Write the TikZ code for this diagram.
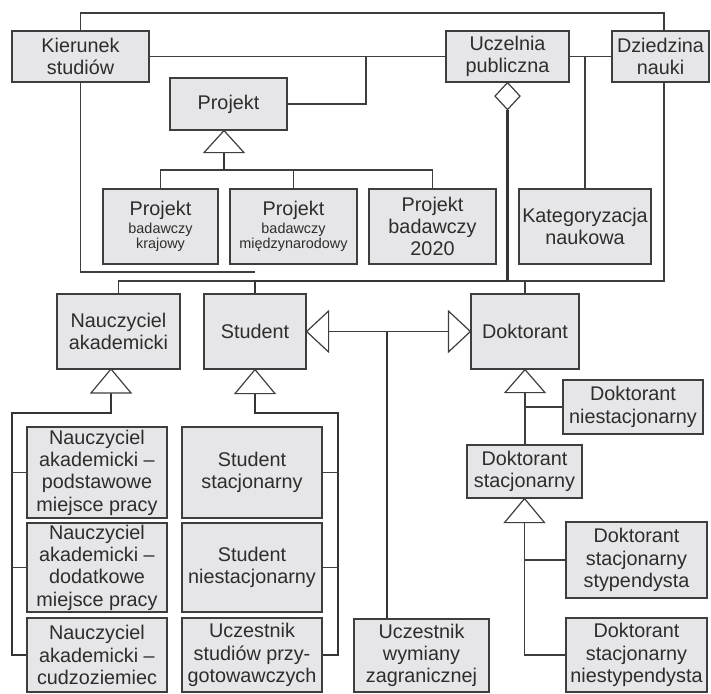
\documentclass[tikz,border=0pt]{standalone}
\usepackage{fontspec}
\setmainfont{Liberation Sans}
\usetikzlibrary{calc}
\definecolor{boxfill}{RGB}{230,230,232}
\definecolor{ink}{RGB}{62,62,62}
\definecolor{txt}{RGB}{45,45,45}
\newcommand\smtxt{\fontsize{14.4}{15}\selectfont}
\newcommand\bgtxt{\fontsize{19.8}{22.3}\selectfont}
\tikzset{
 box/.style={draw=ink, line width=1.2pt, fill=boxfill, align=center, inner sep=1pt, text=txt, font=\bgtxt},
 sbox/.style={box, font=\smtxt},
 conn/.style={draw=ink, line width=1.3pt},
 thk/.style={draw=ink!85!black, line width=2.3pt},
 tri/.style={draw=ink, line width=1.2pt, fill=white, line join=miter},
}
\begin{document}
\begin{tikzpicture}[x=1pt,y=-1pt]
\useasboundingbox (0,0) rectangle (711,693);
% boxes
\node[box, minimum width=137pt, minimum height=51pt] (kier) at (80.5,56.5) {Kierunek\\studiów};
\node[box, minimum width=123pt, minimum height=51pt] (uczel) at (507.5,56.5) {Uczelnia\\publiczna};
\node[box, minimum width=97pt, minimum height=51pt] (dzied) at (660.5,56.5) {Dziedzina\\nauki};
\node[box, minimum width=117pt, minimum height=52pt] (proj) at (228.5,104) {Projekt};
\node[sbox, minimum width=115pt, minimum height=75pt] (pk) at (160.5,226.5) {{\bgtxt Projekt}\\[3pt]badawczy\\krajowy};
\node[sbox, minimum width=127pt, minimum height=75pt] (pm) at (293.5,226.5) {{\bgtxt Projekt}\\[3pt]badawczy\\międzynarodowy};
\node[box, minimum width=127pt, minimum height=75pt] (p20) at (432.5,226.5) {Projekt\\badawczy\\2020};
\node[box, minimum width=132pt, minimum height=75pt] (kat) at (585,226.5) {Kategoryzacja\\naukowa};
\node[box, minimum width=123pt, minimum height=75pt] (nau) at (118.5,331.5) {Nauczyciel\\akademicki};
\node[box, minimum width=102pt, minimum height=75pt] (stu) at (255,331.5) {Student};
\node[box, minimum width=108pt, minimum height=75pt] (dok) at (525,331.5) {Doktorant};
\node[box, minimum width=140pt, minimum height=91pt] (na1) at (97,472.5) {Nauczyciel\\akademicki –\\podstawowe\\miejsce pracy};
\node[box, minimum width=140pt, minimum height=89pt] (na2) at (97,567.5) {Nauczyciel\\akademicki –\\dodatkowe\\miejsce pracy};
\node[box, minimum width=140pt, minimum height=74pt] (na3) at (97,655) {Nauczyciel\\akademicki –\\cudzoziemiec};
\node[box, minimum width=140pt, minimum height=91pt] (s1) at (252,472.5) {Student\\stacjonarny};
\node[box, minimum width=140pt, minimum height=89pt] (s2) at (252,567.5) {Student\\niestacjonarny};
\node[box, minimum width=140pt, minimum height=74pt] (s3) at (252,655) {Uczestnik\\studiów przy-\\gotowawczych};
\node[box, minimum width=135pt, minimum height=73pt] (uwz) at (421.5,655.5) {Uczestnik\\wymiany\\zagranicznej};
\node[box, minimum width=140pt, minimum height=54pt] (dn) at (633,407) {Doktorant\\niestacjonarny};
\node[box, minimum width=115pt, minimum height=53pt] (ds) at (524.5,471.5) {Doktorant\\stacjonarny};
\node[box, minimum width=141pt, minimum height=76pt] (dss) at (636.5,560) {Doktorant\\stacjonarny\\stypendysta};
\node[box, minimum width=141pt, minimum height=74pt] (dsn) at (636.5,655) {Doktorant\\stacjonarny\\niestypendysta};
% helper coordinates
\coordinate (h13) at (0,13);
\coordinate (h57) at (0,56.5);
\coordinate (h170) at (0,170);
\coordinate (h272) at (0,272);
\coordinate (h281) at (0,281);
\coordinate (h413) at (0,413);
\coordinate (dzx) at (664,0);
\coordinate (pj) at (366,56.5);
\coordinate (nx) at (12,0);
\coordinate (sx) at (338,0);
% top connections
\draw[conn] (kier.north) -- (kier.north |- h13) -- (dzx |- h13) -- (dzx |- dzied.north);
\draw[conn] (kier.east) -- (uczel.west);
\draw[conn] (proj.east) -| (pj);
\draw[conn] (uczel.east) -- (dzied.west);
\draw[conn] (kat.north) -- (kat.north |- h57);
% aggregation from Uczelnia
\coordinate (dmb) at ([yshift=-27pt]uczel.south);
\draw[conn] (nau.north) -- (nau.north |- h281) -- (stu.north |- h281);
\draw[conn] (dmb |- h281) -- (dzx |- h281) -- (dzx |- dzied.south);
\draw[conn] (dok.north) -- (dok.north |- h281);
\draw[conn] (kier.south) -- (kier.south |- h272) -- (stu.north |- h272);
\draw[thk] (dmb) -- (dmb |- h281) -- (stu.north |- h281) -- (stu.north);
\draw[tri] (uczel.south) -- ++(12.5,13.5) -- ++(-12.5,13.5) -- ++(-12.5,-13.5) -- cycle;
% Projekt hierarchy
\coordinate (pa) at ([xshift=-4.5pt]proj.south);
\coordinate (pb) at ([yshift=-22pt]pa);
\draw[conn] (pk.north) -- (pk.north |- h170) -- (p20.north |- h170) -- (p20.north);
\draw[conn] (pm.north) -- (pm.north |- h170);
\draw[thk] (pb) -- (pb |- h170);
\draw[tri] (pa) -- ++(-20,22) -- ++(40,0) -- cycle;
% Student - Doktorant
\coordinate (sa) at ([xshift=22pt]stu.east);
\coordinate (da) at ([xshift=-22pt]dok.west);
\coordinate (uv) at (387,331.5);
\draw[conn] (sa) -- (da);
\draw[thk] (uv) -- (uv |- uwz.north);
\draw[tri] (stu.east) -- ++(22,-20.5) -- ++(0,41) -- cycle;
\draw[tri] (dok.west) -- ++(-22,-20.5) -- ++(0,41) -- cycle;
% Nauczyciel subtypes
\coordinate (na) at (111,369);
\coordinate (nb) at (111,393);
\draw[thk] (nb) -- (nb |- h413) -- (nx |- h413) -- (nx |- na3.west) -- (na3.west);
\draw[conn] (na1.west) -- (na1.west -| nx);
\draw[conn] (na2.west) -- (na2.west -| nx);
\draw[tri] (na) -- ++(-20,24) -- ++(40,0) -- cycle;
% Student subtypes
\coordinate (sb) at ([yshift=-24pt]stu.south);
\draw[thk] (sb) -- (sb |- h413) -- (sx |- h413) -- (sx |- s3.east) -- (s3.east);
\draw[conn] (s1.east) -- (s1.east -| sx);
\draw[conn] (s2.east) -- (s2.east -| sx);
\draw[tri] (stu.south) -- ++(-20,24) -- ++(40,0) -- cycle;
% Doktorant subtypes
\coordinate (db) at ([yshift=-23pt]dok.south);
\draw[conn] (db) -- (db |- ds.north);
\draw[conn] (dn.west) -- (dn.west -| db);
\draw[tri] (dok.south) -- ++(-20,23) -- ++(40,0) -- cycle;
\coordinate (dsb) at ([yshift=-24pt]ds.south);
\draw[conn] (dsb) -- (dsb |- dsn.west) -- (dsn.west);
\draw[conn] (dss.west) -- (dss.west -| dsb);
\draw[tri] (ds.south) -- ++(-20,24) -- ++(40,0) -- cycle;
\end{tikzpicture}
\end{document}
